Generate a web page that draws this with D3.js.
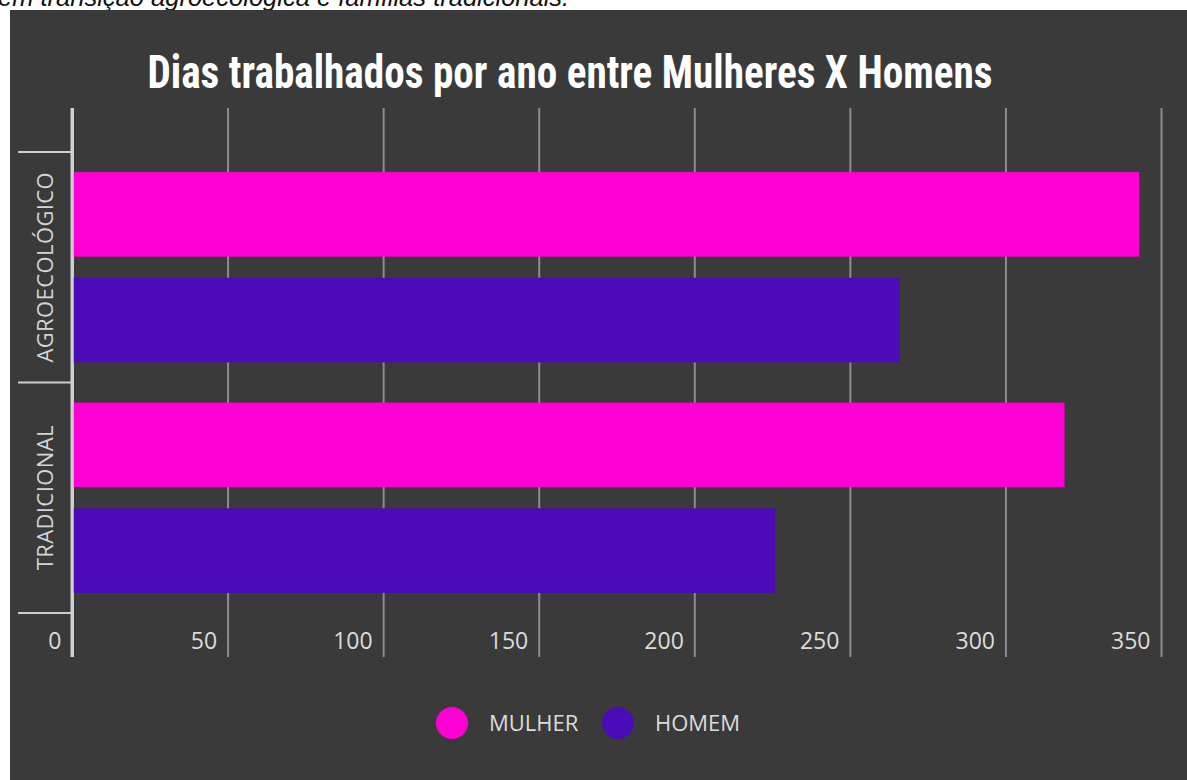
<!DOCTYPE html>
<html>
<head>
    <meta charset="utf-8">
    <title>Dias trabalhados por ano</title>
    <script type="text/javascript" src="https://cdn.jsdelivr.net/npm/d3@7"></script>
    <style>
        html, body { margin: 0; padding: 0; background: #fff; overflow: hidden; }
        svg { display: block; }
    </style>
</head>

<body>

<script type="text/javascript">
    // data
    var categories = ["AGROECOLÓGICO", "TRADICIONAL"];
    var series = ["MULHER", "HOMEM"];
    var mulher = [343, 319];
    var homem = [266, 226];
    var xTicks = [0, 50, 100, 150, 200, 250, 300, 350];
    var colors = ["#ff00d4", "#4b0bb9"];

    var width = 1187,
        height = 780;

    var svg = d3.select("body").append("svg")
            .attr("width", width)
            .attr("height", height);

    // caption cut off above the panel
    svg.append("text")
        .attr("x", -2)
        .attr("y", 6)
        .attr("font-family", "Liberation Sans, Arial, sans-serif")
        .attr("font-style", "italic")
        .attr("font-size", 25.5)
        .attr("fill", "#111")
        .text("em transição agroecológica e famílias tradicionais.");

    svg.append("rect")
        .attr("x", 10)
        .attr("y", 10)
        .attr("width", width - 10)
        .attr("height", height - 10)
        .attr("fill", "#3a3a3a");

    svg.append("text")
        .attr("x", 570)
        .attr("y", 88)
        .attr("text-anchor", "middle")
        .attr("font-family", "Liberation Sans Narrow, Roboto Condensed, Liberation Sans, sans-serif")
        .attr("font-weight", "bold")
        .attr("font-size", 46)
        .attr("fill", "#fff")
        .attr("textLength", 845)
        .attr("lengthAdjust", "spacingAndGlyphs")
        .text("Dias trabalhados por ano entre Mulheres X Homens");

    var plotTop = 108, plotBottom = 657;

    var x = d3.scaleLinear().domain([0, 350]).range([72, 1161]);
    var y = d3.scaleBand().domain(categories).range([152, 613]);
    var ySub = d3.scaleBand().domain(series)
                 .range([0, y.bandwidth()])
                 .paddingInner(0.2)
                 .paddingOuter(0.19);

    // vertical grid lines + tick labels
    var xAxis = d3.axisBottom(x)
                  .tickValues(xTicks)
                  .tickSize(0)
                  .tickPadding(0);

    var gx = svg.append("g")
        .classed("x-axis", true)
        .attr("transform", "translate(0," + plotBottom + ")")
        .call(xAxis);

    gx.select(".domain").remove();

    gx.selectAll("g.tick")
        .append("line")
        .attr("x1", 0)
        .attr("x2", 0)
        .attr("y1", 0)
        .attr("y2", plotTop - plotBottom)
        .attr("stroke", function(d){ return d === 0 ? "#cfcfcf" : "#8c8c8c"; })
        .attr("stroke-width", function(d){ return d === 0 ? 3 : 2; });

    gx.selectAll("g.tick text")
        .attr("text-anchor", "end")
        .attr("x", -11)
        .attr("y", -8)
        .attr("dy", 0)
        .attr("fill", "#dcdcdc")
        .attr("font-family", "Open Sans, sans-serif")
        .attr("font-size", 23);

    // category axis: ticks at band edges
    var edges = categories.map(function(c){ return y(c); });
    edges.push(y.range()[1]);

    svg.append("g")
        .selectAll("line")
        .data(edges)
        .enter().append("line")
        .attr("x1", 18)
        .attr("x2", 71)
        .attr("y1", function(d){ return d; })
        .attr("y2", function(d){ return d; })
        .attr("stroke", "#cfcfcf")
        .attr("stroke-width", 2);

    svg.append("g")
        .selectAll("text")
        .data(categories)
        .enter().append("text")
        .attr("transform", function(d){
            return "translate(53," + (y(d) + y.bandwidth() / 2) + ") rotate(-90)";
        })
        .attr("text-anchor", "middle")
        .attr("fill", "#d4d4d4")
        .attr("font-family", "Open Sans, sans-serif")
        .attr("font-size", 22)
        .attr("letter-spacing", 0.4)
        .text(function(d){ return d; });

    // bars
    var rows = [];
    categories.forEach(function(c, i){
        rows.push({cat: c, s: series[0], v: mulher[i]});
        rows.push({cat: c, s: series[1], v: homem[i]});
    });

    var color = d3.scaleOrdinal().domain(series).range(colors);

    svg.append("g")
        .selectAll("rect")
        .data(rows)
        .enter().append("rect")
        .attr("x", x(0) + 1.5)
        .attr("y", function(d){ return y(d.cat) + ySub(d.s); })
        .attr("width", function(d){ return x(d.v) - x(0) - 1.5; })
        .attr("height", ySub.bandwidth())
        .attr("fill", function(d){ return color(d.s); });

    // redraw the zero line on top of the bars
    svg.append("line")
        .attr("x1", x(0))
        .attr("x2", x(0))
        .attr("y1", plotTop)
        .attr("y2", plotBottom)
        .attr("stroke", "#cfcfcf")
        .attr("stroke-width", 3);

    // legend
    var legendX = [452, 618];
    var legend = svg.append("g")
        .selectAll("g")
        .data(series)
        .enter().append("g")
        .attr("transform", function(d, i){ return "translate(" + legendX[i] + ",723)"; });

    legend.append("circle")
        .attr("r", 16)
        .attr("fill", function(d){ return color(d); });

    legend.append("text")
        .attr("x", 37)
        .attr("y", 8)
        .attr("fill", "#dcdcdc")
        .attr("font-family", "Open Sans, sans-serif")
        .attr("font-size", 22)
        .text(function(d){ return d; });
</script>

</body>

</html>
